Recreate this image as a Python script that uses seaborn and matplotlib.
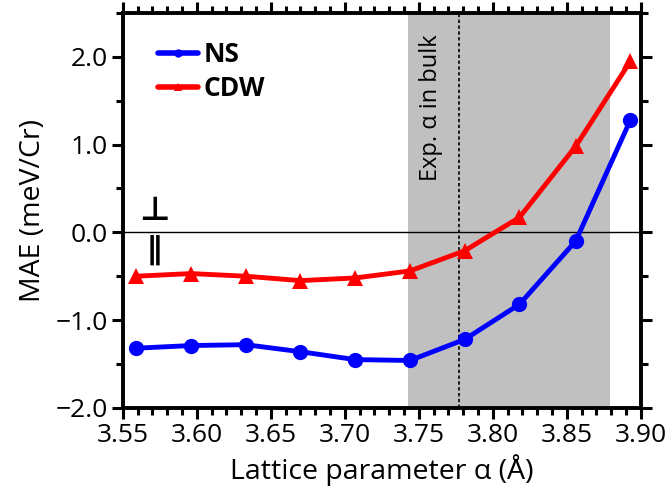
import numpy as np
import pandas as pd
import matplotlib
matplotlib.use("Agg")
import matplotlib.pyplot as plt
import seaborn as sns
from matplotlib.ticker import MultipleLocator

lattice = [3.559, 3.596, 3.633, 3.670, 3.707, 3.744, 3.781, 3.818, 3.856, 3.893]
ns_mae = [-1.32, -1.29, -1.28, -1.36, -1.45, -1.46, -1.22, -0.82, -0.10, 1.28]
cdw_mae = [-0.50, -0.47, -0.50, -0.55, -0.52, -0.44, -0.21, 0.17, 0.98, 1.95]
series_names = ["NS", "CDW"]
band_range = [3.743, 3.879]
exp_a = 3.777

sns.set_theme(style="ticks")
plt.rcParams['font.family'] = ['Open Sans', 'DejaVu Sans']
plt.rcParams['text.color'] = 'black'
plt.rcParams['axes.labelcolor'] = 'black'
plt.rcParams['xtick.color'] = 'black'
plt.rcParams['ytick.color'] = 'black'
plt.rcParams['axes.edgecolor'] = 'black'

df = pd.DataFrame({
    "a": lattice * 2,
    "MAE": ns_mae + cdw_mae,
    "series": [series_names[0]] * len(lattice) + [series_names[1]] * len(lattice),
})

fig = plt.figure(figsize=(6.71, 4.95), dpi=100)
ax = fig.add_axes([0.183, 0.176, 0.772, 0.798])

ax.axvspan(band_range[0], band_range[1], color="#c0c0c0", zorder=0, lw=0)
ax.axvline(exp_a, color="black", ls=(0, (2, 1.5)), lw=1.2, zorder=1)
ax.axhline(0, color="black", lw=1.0, zorder=1)

sns.lineplot(data=df, x="a", y="MAE", hue="series", style="series",
             palette={"NS": "#0000ff", "CDW": "#ff0000"},
             markers={"NS": "o", "CDW": "^"}, dashes=False,
             lw=3.5, markersize=11, markeredgewidth=0, ax=ax, zorder=3)

ax.set_xlim(3.55, 3.90)
ax.set_ylim(-2.0, 2.5)
ax.set_xticks(np.arange(3.55, 3.901, 0.05))
ax.set_xticklabels([f"{v:.2f}" for v in np.arange(3.55, 3.901, 0.05)])
ax.set_yticks([-2.0, -1.0, 0.0, 1.0, 2.0])
ax.set_yticklabels(["\u22122.0", "\u22121.0", "0.0", "1.0", "2.0"])
ax.xaxis.set_minor_locator(MultipleLocator(0.01))
ax.yaxis.set_minor_locator(MultipleLocator(0.5))
ax.tick_params(which="both", direction="out", top=True, right=True,
               labeltop=False, labelright=False, width=2.2, pad=3)
ax.tick_params(which="major", length=8, labelsize=19)
ax.tick_params(which="minor", length=5)
for s in ax.spines.values():
    s.set_linewidth(2.8)

ax.set_xlabel("Lattice parameter \u03b1 (\u00c5)", fontsize=20.5, labelpad=4)
ax.set_ylabel("MAE (meV/Cr)", fontsize=20.5, labelpad=6)

ax.text(3.7585, 1.42, "Exp. \u03b1 in bulk", rotation=90, ha="center", va="center", fontsize=17)
ax.text(3.5715, 0.06, "\u22a5", ha="center", va="bottom", fontsize=24, fontweight="bold",
        family=['DejaVu Sans'])
ax.text(3.5715, -0.03, "\u2225", ha="center", va="top", fontsize=22, fontweight="bold",
        family=['DejaVu Sans'])

leg = ax.legend(loc="upper left", bbox_to_anchor=(0.033, 0.975), frameon=False,
                prop={"weight": "bold", "size": 19}, handlelength=1.5,
                handletextpad=0.2, labelspacing=0.25, borderaxespad=0.3)
leg.set_title(None)
for h in leg.legend_handles:
    h.set_markersize(6)
    h.set_linewidth(4)

fig.savefig("out.png", dpi=100)
